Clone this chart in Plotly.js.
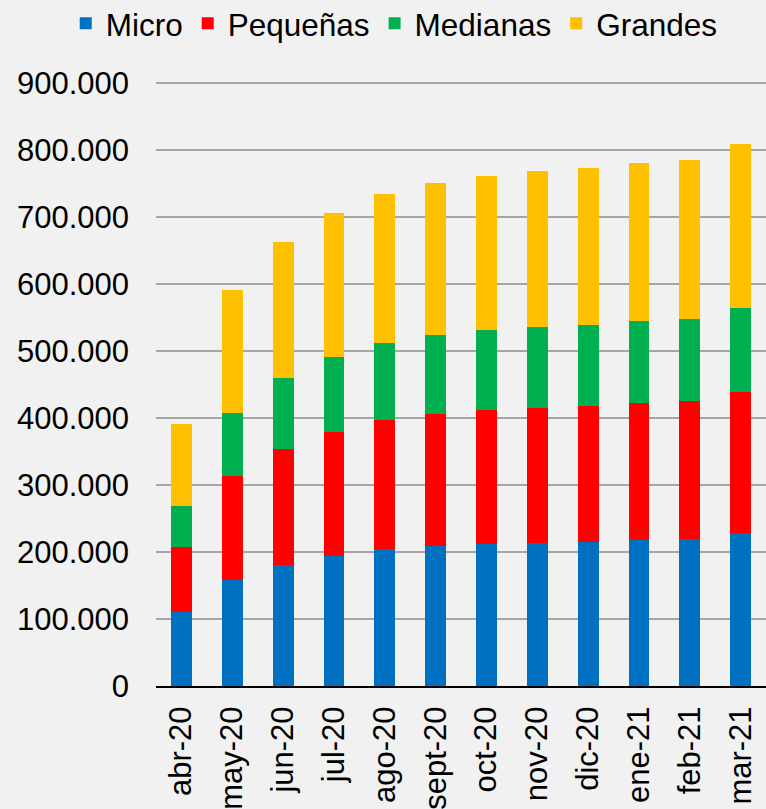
<!DOCTYPE html>
<html>
<head>
<meta charset="utf-8">
<script src="https://cdn.plot.ly/plotly-3.0.1.min.js"></script>
<style>
html,body{margin:0;padding:0;background:#f1f1f1;}
#chart{width:766px;height:809px;}
</style>
</head>
<body>
<div id="chart"></div>
<script>
const categories = ["abr-20","may-20","jun-20","jul-20","ago-20","sept-20","oct-20","nov-20","dic-20","ene-21","feb-21","mar-21"];
const micro    = [110000,158000,180000,194500,204000,208500,211500,213000,215000,217500,219000,228000];
const pequenas = [97000,156000,174000,185500,193500,197500,200500,202000,203000,204500,206000,211000];
const medianas = [62000,93000,106000,111000,114500,118000,119000,121000,121000,123000,123000,126000];
const grandes  = [122500,184000,203000,215000,223000,227000,231000,233000,234000,235600,237500,244000];
const yTicks = [0,100000,200000,300000,400000,500000,600000,700000,800000,900000];

const series = [
  {name:"Micro", y:micro, color:"#0070C0"},
  {name:"Pequeñas", y:pequenas, color:"#FF0000"},
  {name:"Medianas", y:medianas, color:"#00B050"},
  {name:"Grandes", y:grandes, color:"#FFC000"}
];

const data = series.map(s => ({
  type:"bar", name:s.name, x:categories, y:s.y,
  marker:{color:s.color, line:{width:0}},
  hoverinfo:"skip"
}));

const font = {family:"Liberation Sans, Arial, sans-serif", size:31, color:"#000"};
const legendFont = {family:"Liberation Sans, Arial, sans-serif", size:31.5, color:"#000"};

const layout = {
  width:766, height:809,
  barmode:"stack", bargap:0.59,
  separators:",.",
  paper_bgcolor:"#f1f1f1", plot_bgcolor:"rgba(0,0,0,0)",
  font:font,
  margin:{l:156, r:0, t:80, b:123, pad:0, autoexpand:false},
  showlegend:true,
  legend:{orientation:"h", x:-0.148, xanchor:"left", y:1.138, yanchor:"top",
          font:legendFont, itemwidth:30, traceorder:"normal", bgcolor:"rgba(0,0,0,0)", tracegroupgap:0},
  xaxis:{type:"category", tickangle:-90, tickfont:font, showgrid:false,
         showline:true, linecolor:"#000", linewidth:2, ticks:"", ticklabelstandoff:6,
         fixedrange:true, automargin:false},
  yaxis:{range:[0,905000], tickvals:yTicks, tickformat:",d", tickfont:font,
         showgrid:true, gridcolor:"#a6a6a6", gridwidth:2, zeroline:false, showline:false,
         ticks:"", ticklabelstandoff:26, fixedrange:true, automargin:false}
};

Plotly.newPlot("chart", data, layout, {staticPlot:true, displayModeBar:false});
</script>
</body>
</html>
